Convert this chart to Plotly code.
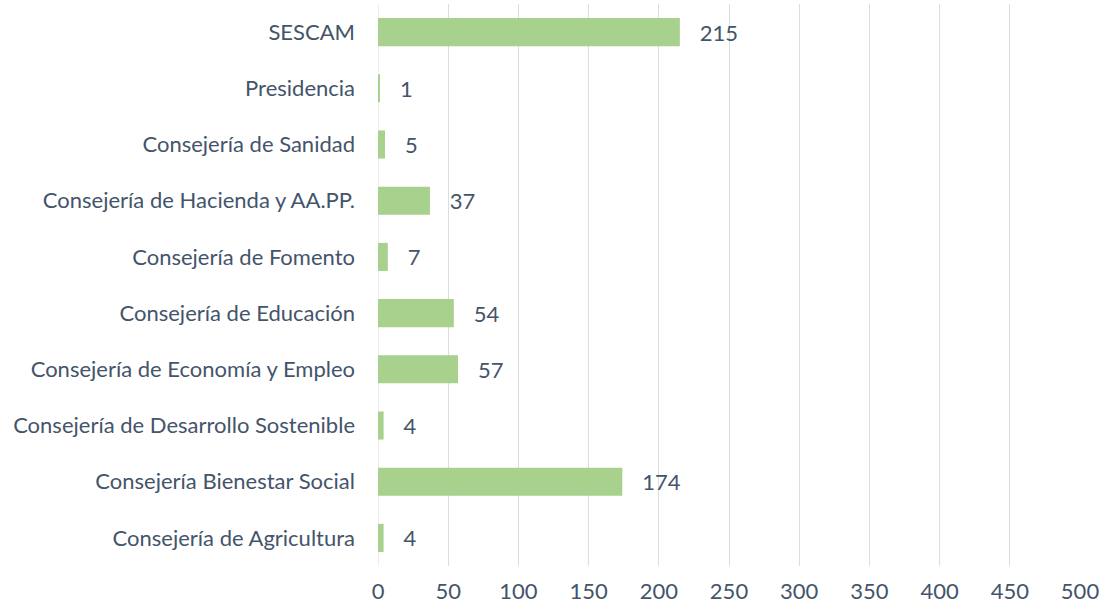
import plotly.graph_objects as go

categories = [
    "Consejería de Agricultura",
    "Consejería Bienestar Social",
    "Consejería de Desarrollo Sostenible",
    "Consejería de Economía y Empleo",
    "Consejería de Educación",
    "Consejería de Fomento",
    "Consejería de Hacienda y AA.PP.",
    "Consejería de Sanidad",
    "Presidencia",
    "SESCAM",
]
values = [4, 174, 4, 57, 54, 7, 37, 5, 1, 215]
x_ticks = [0, 50, 100, 150, 200, 250, 300, 350, 400, 450, 500]

text_color = "#44546A"
font_family = "Lato, 'Open Sans', sans-serif"
fsize = 22

fig = go.Figure(
    go.Bar(
        x=values,
        y=categories,
        orientation="h",
        marker=dict(color="#A9D18E", line=dict(width=0)),
        width=0.5,
        text=["   " + str(v) for v in values],
        textposition="outside",
        cliponaxis=False,
        textfont=dict(family=font_family, size=fsize, color=text_color),
    )
)

fig.update_layout(
    width=1105,
    height=610,
    margin=dict(l=378, r=25, t=4, b=44, autoexpand=False),
    paper_bgcolor="white",
    plot_bgcolor="white",
    showlegend=False,
    font=dict(family=font_family, size=fsize, color=text_color),
    xaxis=dict(
        range=[0, 500],
        tickvals=x_ticks,
        ticktext=[str(t) for t in x_ticks],
        showgrid=True,
        gridcolor="#DADDE2",
        gridwidth=1,
        zeroline=False,
        showline=False,
        ticks="",
        automargin=False,
        ticklabelstandoff=10,
        tickfont=dict(size=fsize, color=text_color),
        fixedrange=True,
    ),
    yaxis=dict(
        categoryorder="array",
        categoryarray=categories,
        showgrid=False,
        zeroline=False,
        showline=False,
        ticks="",
        automargin=False,
        ticklabelstandoff=22,
        tickfont=dict(size=fsize, color=text_color),
        range=[-0.5, len(categories) - 0.5],
    ),
)

fig.add_shape(
    type="line", xref="x", yref="paper", x0=0, x1=0, y0=0, y1=1,
    line=dict(color="#DADDE2", width=1), layer="below",
)

fig.write_html(
    "out.html",
    config={"displayModeBar": False},
    post_script="document.body.style.margin='0';document.body.style.padding='0';",
)
